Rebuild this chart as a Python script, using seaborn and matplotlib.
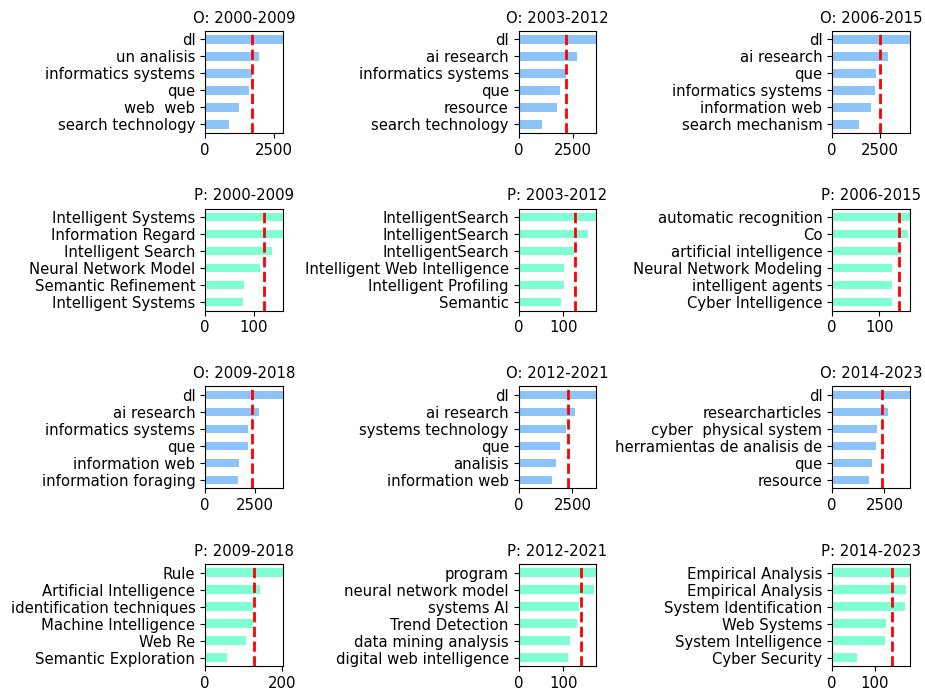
import numpy as np
import pandas as pd
import matplotlib
matplotlib.use("Agg")
import matplotlib.pyplot as plt
import seaborn as sns

# Top-6 terms per decade window: "O" = overall terms, "P" = phrase terms
o_2000_2009_terms = ["dl", "un analisis", "informatics systems", "que", "web  web", "search technology"]
o_2000_2009_vals = [2814, 1959, 1681, 1573, 1237, 853]

o_2003_2012_terms = ["dl", "ai research", "informatics systems", "que", "resource", "search technology"]
o_2003_2012_vals = [3577, 2685, 2164, 1920, 1765, 1090]

o_2006_2015_terms = ["dl", "ai research", "que", "informatics systems", "information web", "search mechanism"]
o_2006_2015_vals = [4057, 2935, 2275, 2238, 2013, 1415]

p_2000_2009_terms = ["Intelligent Systems", "Information Regard", "Intelligent Search",
                     "Neural Network Model", "Semantic Refinement", "Intelligent Systems"]
p_2000_2009_vals = [160.7, 160.0, 138.0, 112.4, 80.0, 79.3]

p_2003_2012_terms = ["IntelligentSearch", "IntelligentSearch", "IntelligentSearch",
                     "Intelligent Web Intelligence", "Intelligent Profiling", "Semantic"]
p_2003_2012_vals = [173.8, 155.0, 124.0, 102.0, 101.6, 94.8]

p_2006_2015_terms = ["automatic recognition", "Co", "artificial intelligence",
                     "Neural Network Modeling", "intelligent agents", "Cyber Intelligence"]
p_2006_2015_vals = [164.7, 160.4, 145.5, 127.7, 126.4, 126.4]

o_2009_2018_terms = ["dl", "ai research", "informatics systems", "que", "information web", "information foraging"]
o_2009_2018_vals = [3900, 2680, 2165, 2130, 1680, 1630]

o_2012_2021_terms = ["dl", "ai research", "systems technology", "que", "analisis", "information web"]
o_2012_2021_vals = [3617, 2640, 2188, 1940, 1755, 1568]

o_2014_2023_terms = ["dl", "researcharticles", "cyber  physical system",
                     "herramientas de analisis de", "que", "resource"]
o_2014_2023_vals = [3721, 2663, 2149, 2101, 1909, 1779]

p_2009_2018_terms = ["Rule", "Artificial Intelligence", "identification techniques",
                     "Machine Intelligence", "Web Re", "Semantic Exploration"]
p_2009_2018_vals = [202.0, 142.9, 125.5, 123.6, 106.5, 57.1]

p_2012_2021_terms = ["program", "neural network model", "systems AI",
                     "Trend Detection", "data mining analysis", "digital web intelligence"]
p_2012_2021_vals = [174.0, 167.7, 136.0, 130.0, 115.0, 111.0]

p_2014_2023_terms = ["Empirical Analysis", "Empirical Analysis", "System Identification",
                     "Web Systems", "System Intelligence", "Cyber Security"]
p_2014_2023_vals = [181.3, 172.6, 169.6, 125.0, 123.4, 58.5]

panels = [
    ("O: 2000-2009", o_2000_2009_terms, o_2000_2009_vals),
    ("O: 2003-2012", o_2003_2012_terms, o_2003_2012_vals),
    ("O: 2006-2015", o_2006_2015_terms, o_2006_2015_vals),
    ("P: 2000-2009", p_2000_2009_terms, p_2000_2009_vals),
    ("P: 2003-2012", p_2003_2012_terms, p_2003_2012_vals),
    ("P: 2006-2015", p_2006_2015_terms, p_2006_2015_vals),
    ("O: 2009-2018", o_2009_2018_terms, o_2009_2018_vals),
    ("O: 2012-2021", o_2012_2021_terms, o_2012_2021_vals),
    ("O: 2014-2023", o_2014_2023_terms, o_2014_2023_vals),
    ("P: 2009-2018", p_2009_2018_terms, p_2009_2018_vals),
    ("P: 2012-2021", p_2012_2021_terms, p_2012_2021_vals),
    ("P: 2014-2023", p_2014_2023_terms, p_2014_2023_vals),
]

COLORS = {"O": "#8cc4fa", "P": "#7fffd4"}
FS = 10.7

plt.rcParams["font.family"] = ["DejaVu Sans"]
plt.rcParams["font.size"] = FS
plt.rcParams["xtick.labelsize"] = FS
plt.rcParams["ytick.labelsize"] = FS

fig, axes = plt.subplots(4, 3, figsize=(9.25, 6.95), dpi=100)
fig.subplots_adjust(left=205 / 925, right=910 / 925,
                    top=1 - 31 / 695, bottom=1 - 666 / 695,
                    wspace=3.02, hspace=0.742)

for ax, (title, terms, vals) in zip(axes.flat, panels):
    # rank keeps duplicate term names as separate bars
    df = pd.DataFrame({"rank": np.arange(len(terms)), "count": vals})
    sns.barplot(data=df, x="count", y="rank", orient="h", width=0.5,
                color=COLORS[title[0]], saturation=1, ax=ax)
    ax.set_yticks(range(len(terms)))
    ax.set_yticklabels(terms)
    ax.axvline(np.mean(vals), color="red", linestyle="--", linewidth=2)
    ax.set_xlim(0, max(vals))
    ax.set_title(title, fontsize=FS)
    ax.set_xlabel("")
    ax.set_ylabel("")
    for s in ax.spines.values():
        s.set_visible(True)
        s.set_color("black")

fig.savefig("out.png", dpi=100)
